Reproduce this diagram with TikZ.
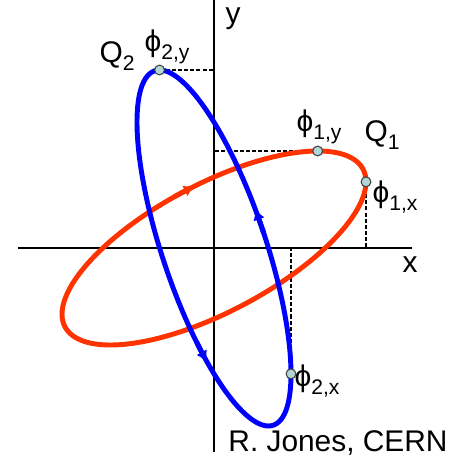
\documentclass[tikz,border=0pt]{standalone}
\usepackage{fontspec}
\setmainfont{Liberation Sans}
\usetikzlibrary{arrows.meta}
\definecolor{ellred}{RGB}{255,51,0}
\definecolor{ellblue}{RGB}{0,0,255}
\definecolor{mkfill}{RGB}{176,214,214}
\newcommand{\sublab}[2]{#1\raisebox{-0.5ex}{\fontsize{12}{13}\selectfont #2}}
\begin{document}
\begin{tikzpicture}[x=0.02cm,y=0.02cm,
  axis/.style={line width=0.85pt},
  guide/.style={line width=1.4pt, dash pattern=on 2.3pt off 1.2pt},
  redorb/.style={draw=ellred,line width=2.8pt},
  blueorb/.style={draw=ellblue,line width=2.8pt},
  marker/.style={circle,draw=black!75,fill=mkfill,line width=0.6pt,minimum size=5.6pt,inner sep=0pt},
  lbl/.style={font=\fontsize{17}{19}\selectfont, inner sep=0pt},
  tipend/.style={-{Triangle[length=5pt,width=6pt]}},
  tipstart/.style={{Triangle[length=5pt,width=6pt]}-}]
\useasboundingbox (-214,-214) rectangle (248,248);
% axes
\coordinate (xl) at (-196,0); \coordinate (xr) at (198,0);
\coordinate (yt) at (0,248); \coordinate (yb) at (0,-204);
\draw[axis] (xl) -- (xr);
\draw[axis] (yt) -- (yb);
% marker points
\coordinate (c1x) at ({152},{97*cos(47)});
\coordinate (c1y) at ({152*cos(47)},{97});
\coordinate (c2y) at ({77*cos(135)},{178});
\coordinate (c2x) at ({77},{178*cos(135)});
\coordinate (f1x) at ({152},0);
\coordinate (f1y) at (0,{97});
\coordinate (f2y) at (0,{178});
\coordinate (f2x) at ({77},0);
% dashed guides
\draw[guide] (c1x) -- (f1x);
\draw[guide] (c1y) -- (f1y);
\draw[guide] (c2y) -- (f2y);
\draw[guide] (c2x) -- (f2x);
% red ellipse
\draw[redorb] plot[domain=0:357, samples=120, smooth cycle, variable=\t] ({152*cos(\t)},{97*cos(\t+47)});
\draw[redorb, tipend] plot[domain=255:262, samples=6, smooth, variable=\t] ({152*cos(\t)},{97*cos(\t+47)});
% blue ellipse
\draw[blueorb] plot[domain=0:357, samples=120, smooth cycle, variable=\t] ({77*cos(\t)},{178*cos(\t+135)});
\draw[blueorb, tipstart] plot[domain=303:310, samples=6, smooth, variable=\t] ({77*cos(\t)},{178*cos(\t+135)});
\draw[blueorb, tipstart] plot[domain=96:103, samples=6, smooth, variable=\t] ({77*cos(\t)},{178*cos(\t+135)});
% markers
\node[marker] (m1x) at (c1x) {};
\node[marker] (m1y) at (c1y) {};
\node[marker] (m2y) at (c2y) {};
\node[marker] (m2x) at (c2x) {};
% labels
\node[lbl] (ylab) at (19,229) {y};
\node[lbl] (xlab) at (196,-17) {x};
\node[lbl] (q2) at (-97,192) {\sublab{Q}{2}};
\node[lbl] (q1) at (168,113) {\sublab{Q}{1}};
\node[lbl] (l2y) at (-47,201) {\sublab{ϕ}{2,y}};
\node[lbl] (l1y) at (105,121) {\sublab{ϕ}{1,y}};
\node[lbl] (l1x) at (181,51) {\sublab{ϕ}{1,x}};
\node[lbl] (l2x) at (103,-133) {\sublab{ϕ}{2,x}};
\node[lbl] (credit) at (124,-195) {R. Jones, CERN};
\end{tikzpicture}
\end{document}
